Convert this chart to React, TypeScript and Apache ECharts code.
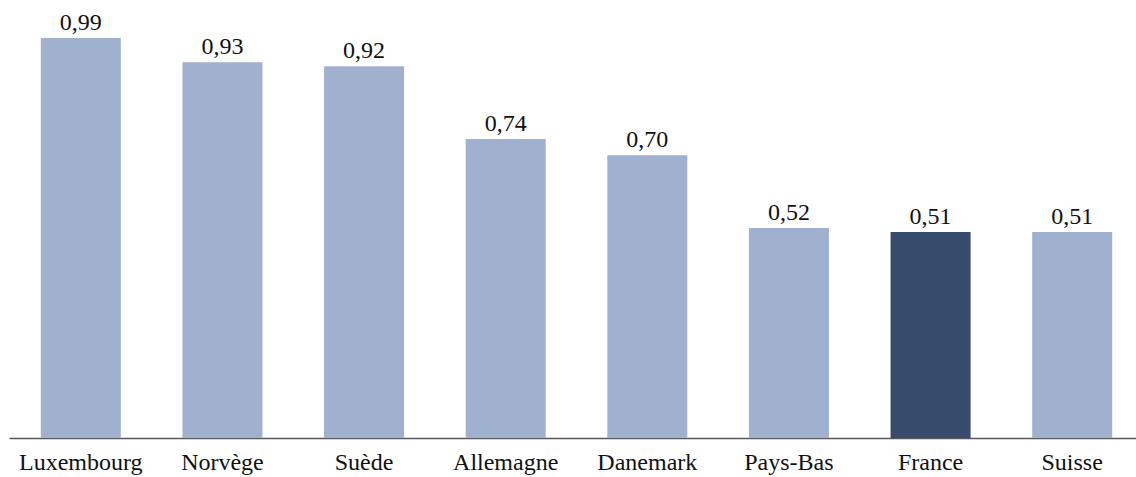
import React, { useEffect, useRef } from "react";
import * as echarts from "echarts";

const categories = ["Luxembourg", "Norvège", "Suède", "Allemagne", "Danemark", "Pays-Bas", "France", "Suisse"];
const values = [0.99, 0.93, 0.92, 0.74, 0.70, 0.52, 0.51, 0.51];
const highlight = "France";

export default function App() {
  const ref = useRef<HTMLDivElement>(null);
  useEffect(() => {
    if (!ref.current) return;
    const chart = echarts.init(ref.current, null, { renderer: "svg" });
    chart.setOption({
      animation: false,
      grid: { left: 10, right: -7, top: 34, bottom: 39, containLabel: false, outerBoundsMode: "none" },
      xAxis: {
        type: "category",
        data: categories,
        axisTick: { show: false },
        axisLine: { lineStyle: { color: "#5a5a5a", width: 1.3 } },
        axisLabel: {
          color: "#111",
          fontFamily: "Liberation Serif",
          fontSize: 24,
          margin: 12,
          interval: 0,
        },
      },
      yAxis: {
        type: "value",
        min: 0,
        max: 1,
        show: false,
        splitLine: { show: false },
      },
      series: [
        {
          type: "bar",
          barWidth: "56.5%",
          data: values.map((v, i) => ({
            value: v,
            itemStyle: { color: categories[i] === highlight ? "#374B6C" : "#9FB1CE" },
          })),
          label: {
            show: true,
            position: "top",
            distance: 4,
            color: "#111",
            fontFamily: "Liberation Serif",
            fontSize: 24,
            formatter: (p: any) => p.value.toFixed(2).replace(".", ","),
          },
        },
      ],
    });
    return () => chart.dispose();
  }, []);
  return (
    <div
      ref={ref}
      style={{ position: "absolute", left: 0, top: 0, width: 1136, height: 477 }}
    />
  );
}
